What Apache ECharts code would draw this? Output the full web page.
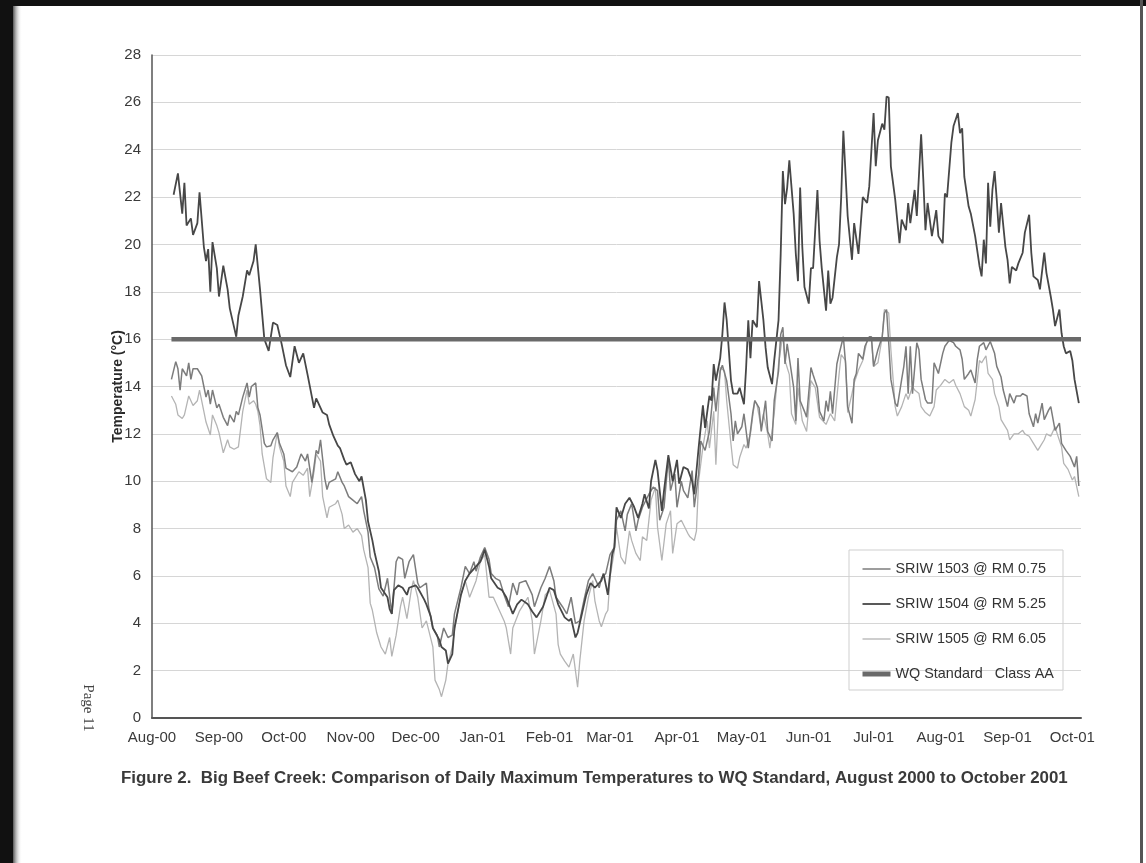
<!DOCTYPE html>
<html lang="en">
<head>
    <meta charset="UTF-8">
    <title>Big Beef Creek</title>
    <script src="https://cdn.jsdelivr.net/npm/echarts@6/dist/echarts.min.js"></script>
    <style>
        html, body { margin: 0; padding: 0; background: #fff; }
        #main { width: 1146px; height: 863px; }
    </style>
</head>
<body>
<div id="main"></div>
<script type="text/javascript">
    // x values are days since 1 Aug 2000
    var monthLabels = ['Aug-00', 'Sep-00', 'Oct-00', 'Nov-00', 'Dec-00', 'Jan-01', 'Feb-01', 'Mar-01',
        'Apr-01', 'May-01', 'Jun-01', 'Jul-01', 'Aug-01', 'Sep-01', 'Oct-01'];
    var monthStartDays = [0, 31, 61, 92, 122, 153, 184, 212, 243, 273, 304, 334, 365, 396, 426];

    // SRIW 1503 @ RM 0.75
    var sriw1503 = [[9,14.3],[11,15.05],[12,14.75],[13,13.85],[14,14.75],[16,14.45],[17,15.0],[18,14.3],[19,14.75],[21,14.75],
        [23,14.45],[24,14.0],[25,13.55],[26,13.85],[27,13.25],[28,13.85],[30,13.1],[31,13.25],[33,12.7],[35,12.35],
        [36,12.8],[38,12.5],[39,12.95],[40,12.8],[42,13.55],[44,14.15],[45,13.55],[46,14.0],[48,14.15],[49,13.1],
        [50,12.8],[52,11.6],[53,11.45],[55,11.5],[56,11.75],[58,12.05],[59,11.6],[61,11.15],[62,10.55],[65,10.4],
        [67,10.6],[69,11.15],[71,10.85],[72,11.15],[74,9.95],[76,11.3],[77,11.15],[78,11.75],[80,10.1],[81,9.65],
        [82,9.95],[85,10.1],[86,10.4],[88,9.95],[89,9.8],[91,9.35],[93,9.2],[95,9.05],[97,9.35],[98,8.75],
        [100,7.85],[101,6.8],[103,6.35],[105,5.45],[107,5.15],[109,5.9],[111,4.4],[113,6.6],[114,6.8],[116,6.7],
        [117,5.9],[119,6.6],[121,6.9],[123,5.7],[124,5.5],[127,5.7],[128,4.7],[130,3.8],[132,3.5],[133,3.0],
        [135,3.8],[137,3.4],[139,3.5],[140,4.4],[143,5.5],[145,6.4],[147,6.1],[149,6.6],[150,6.2],[152,6.8],
        [154,7.2],[156,6.7],[157,6.1],[159,5.9],[161,5.8],[163,5.2],[165,4.7],[167,5.7],[169,5.2],[170,5.7],
        [173,5.8],[176,5.2],[177,4.7],[180,5.5],[182,5.9],[184,6.4],[186,5.8],[187,5.1],[190,4.7],[192,4.4],
        [194,5.1],[196,4.0],[198,4.1],[200,5.0],[202,5.8],[204,6.1],[207,5.5],[208,5.9],[210,6.1],[212,6.9],
        [214,7.2],[215,8.35],[217,8.75],[219,7.9],[220,8.6],[222,9.05],[224,7.9],[225,8.35],[227,8.9],[230,9.45],
        [232,9.75],[234,9.6],[235,8.35],[237,8.9],[239,11.0],[240,9.6],[242,10.3],[243,8.9],[245,10.0],[246,9.6],
        [248,9.3],[250,10.45],[251,8.9],[253,10.3],[254,11.7],[256,11.3],[258,12.1],[260,13.95],[261,12.95],[263,14.65],
        [264,14.9],[266,14.25],[268,12.85],[269,11.7],[270,12.55],[271,12.0],[273,12.3],[274,12.85],[276,11.4],[278,12.85],
        [279,13.4],[281,13.1],[282,12.1],[284,13.4],[285,12.1],[287,11.7],[288,13.4],[290,14.65],[291,16.2],[292,16.5],
        [293,14.95],[294,15.8],[295,15.2],[297,13.95],[298,12.55],[299,15.2],[300,13.4],[302,12.95],[303,12.7],[305,14.8],
        [306,14.5],[308,13.95],[309,12.95],[311,12.55],[312,13.4],[313,12.95],[314,13.8],[315,12.85],[317,14.95],[318,15.35],
        [320,16.1],[321,15.0],[322,13.15],[324,12.45],[325,14.3],[326,14.55],[327,15.4],[329,15.15],[330,15.7],[332,16.1],
        [333,16.1],[334,14.85],[336,15.55],[338,16.1],[339,17.1],[340,17.25],[341,15.85],[342,14.3],[344,13.3],[345,13.15],
        [347,14.3],[348,14.85],[349,15.7],[350,13.7],[351,15.7],[352,13.7],[354,15.85],[355,15.55],[356,14.3],[358,13.45],
        [359,13.3],[361,13.3],[362,15.0],[364,14.55],[366,15.4],[367,15.7],[369,15.95],[371,15.85],[372,15.7],[374,15.55],
        [375,15.15],[376,14.3],[378,14.55],[379,14.7],[381,14.15],[382,15.15],[383,15.7],[385,15.85],[386,15.55],[388,15.9],
        [390,15.4],[391,14.85],[393,14.4],[394,13.85],[396,13.15],[397,13.7],[399,13.3],[400,13.6],[402,13.6],[403,13.7],
        [405,13.6],[406,12.85],[408,12.3],[409,12.85],[410,12.45],[412,13.3],[413,12.6],[415,13.0],[416,13.15],[418,12.15],
        [420,12.45],[421,11.6],[423,11.3],[425,11.05],[427,10.6],[428,11.05],[429,9.8]];

    // SRIW 1504 @ RM 5.25
    var sriw1504 = [[10,22.1],[12,23.0],[14,21.3],[15,22.6],[16,20.8],[18,21.1],[19,20.4],[21,20.9],[22,22.2],[24,19.9],
        [25,19.3],[26,19.8],[27,18.0],[28,20.1],[30,19.0],[31,17.8],[33,19.1],[35,18.1],[36,17.3],[37,16.9],
        [39,16.1],[40,17.0],[42,17.8],[44,18.9],[45,18.7],[47,19.3],[48,20.0],[50,18.1],[52,16.0],[54,15.5],
        [56,16.7],[58,16.6],[60,15.8],[62,14.9],[64,14.4],[66,15.7],[68,15.0],[70,15.4],[72,14.5],[75,13.1],
        [76,13.5],[78,13.1],[79,12.9],[81,12.8],[82,12.4],[84,11.9],[86,11.5],[87,11.4],[89,10.9],[90,10.7],
        [92,10.8],[94,10.3],[96,10.0],[97,10.2],[99,9.2],[100,8.3],[102,7.5],[103,7.0],[105,6.2],[106,5.5],
        [109,5.1],[110,4.6],[111,4.4],[112,5.4],[114,5.6],[116,5.5],[118,5.2],[119,5.5],[122,5.6],[123,5.5],
        [126,5.0],[127,4.8],[129,4.3],[130,3.8],[133,3.3],[134,3.0],[136,2.85],[137,2.3],[139,2.7],[140,3.8],
        [143,5.2],[145,5.8],[147,6.1],[150,6.4],[152,6.6],[154,7.1],[156,6.4],[157,5.9],[160,5.5],[162,5.4],
        [164,5.1],[167,4.4],[169,4.8],[171,5.0],[174,4.8],[176,4.5],[178,4.25],[181,4.7],[184,5.5],[186,5.4],
        [188,4.8],[191,4.25],[193,4.1],[194,4.2],[196,3.4],[197,3.6],[199,4.4],[201,5.2],[203,5.7],[205,5.5],
        [208,5.8],[209,6.1],[211,5.2],[213,6.9],[214,7.2],[215,8.9],[217,8.45],[219,9.05],[221,9.3],[223,8.95],
        [225,8.45],[227,9.05],[228,9.45],[230,8.85],[231,10.0],[233,10.9],[234,10.45],[236,8.75],[237,9.6],[239,11.1],
        [241,10.0],[243,10.9],[244,9.9],[246,10.6],[248,10.5],[250,10.0],[251,9.45],[253,11.4],[255,13.2],[256,12.25],
        [258,13.6],[259,13.4],[260,14.95],[261,14.25],[263,15.2],[264,16.2],[265,17.55],[266,16.8],[268,14.25],[269,13.7],
        [271,13.7],[272,13.95],[274,13.25],[275,14.8],[276,16.8],[277,15.2],[278,16.8],[280,16.5],[281,18.45],[283,16.8],
        [284,15.65],[285,14.8],[287,14.1],[288,15.1],[290,16.8],[291,19.6],[292,23.1],[293,21.7],[294,22.4],[295,23.55],
        [297,21.3],[298,19.6],[299,18.45],[300,22.4],[301,19.9],[302,18.2],[304,17.5],[305,19.0],[306,19.0],[308,22.3],
        [309,20.15],[310,19.0],[312,17.2],[313,18.9],[314,17.5],[315,17.75],[317,19.45],[318,20.0],[319,22.0],[320,24.8],
        [322,21.2],[324,19.35],[325,20.9],[327,19.6],[329,22.0],[331,21.75],[332,22.45],[334,25.55],[335,23.3],[336,24.4],
        [338,25.1],[339,24.85],[340,26.25],[341,26.2],[342,23.3],[344,21.9],[346,20.05],[347,21.05],[349,20.6],[350,21.75],
        [351,20.9],[353,22.3],[354,21.2],[356,24.65],[357,22.75],[358,20.6],[359,21.75],[361,20.35],[363,21.45],[364,20.35],
        [366,20.05],[367,22.15],[368,22.0],[370,24.3],[371,25.0],[373,25.55],[374,24.7],[375,24.9],[376,22.85],[378,21.6],
        [379,21.3],[381,20.35],[383,19.1],[384,18.65],[385,20.2],[386,19.2],[387,22.6],[388,20.75],[389,22.3],[390,23.1],
        [391,21.9],[392,20.5],[393,21.75],[395,19.9],[396,19.35],[397,18.35],[398,19.05],[400,18.9],[401,19.2],[403,19.65],
        [404,20.5],[406,21.25],[407,19.65],[408,18.65],[410,18.5],[411,18.1],[413,19.65],[414,18.8],[416,17.8],[417,17.25],
        [418,16.55],[420,17.25],[421,16.25],[422,15.7],[423,15.4],[425,15.5],[426,15.1],[427,14.3],[429,13.3]];

    // SRIW 1505 @ RM 6.05
    var sriw1505 = [[9,13.6],[11,13.25],[12,12.8],[14,12.65],[15,12.8],[17,13.6],[19,13.2],[21,13.4],[22,13.85],[24,12.95],
        [25,12.5],[27,11.95],[28,12.8],[30,12.35],[31,12.05],[33,11.2],[35,11.75],[36,11.45],[38,11.35],[40,11.45],
        [42,12.95],[44,13.85],[45,13.25],[47,13.4],[48,13.25],[49,12.95],[50,12.35],[51,11.15],[53,10.1],[55,9.95],
        [56,11.0],[58,12.05],[59,11.45],[61,10.85],[62,9.8],[64,9.35],[65,9.95],[68,10.4],[70,10.25],[72,10.55],
        [73,9.35],[75,10.4],[76,11.15],[78,10.85],[79,9.35],[81,8.45],[82,8.9],[85,9.05],[86,9.2],[88,8.6],
        [89,8.0],[91,8.15],[93,7.85],[95,8.0],[97,7.7],[98,7.1],[100,6.35],[101,4.85],[102,4.55],[104,3.6],
        [106,3.0],[108,2.7],[110,3.4],[111,2.6],[113,3.5],[115,4.7],[116,5.1],[118,4.2],[120,5.4],[121,5.8],
        [123,5.1],[125,3.8],[127,4.1],[130,3.0],[131,1.6],[133,1.2],[134,0.9],[136,1.6],[137,2.3],[139,3.0],
        [140,3.7],[143,5.2],[145,5.8],[147,5.1],[150,5.8],[152,6.6],[154,6.9],[156,5.1],[158,5.1],[160,4.7],
        [163,4.1],[164,3.8],[166,2.7],[167,3.8],[170,4.5],[172,4.8],[174,5.1],[176,4.1],[177,2.7],[180,4.1],
        [182,5.2],[184,5.4],[187,4.4],[188,3.1],[189,2.7],[191,2.4],[193,2.15],[195,2.7],[197,1.3],[198,2.4],
        [200,4.1],[202,5.1],[204,5.8],[205,4.95],[207,4.1],[208,3.85],[210,4.4],[211,4.55],[212,5.95],[214,7.05],
        [215,8.05],[217,6.8],[219,6.5],[221,7.9],[222,7.5],[224,6.95],[226,6.65],[227,7.65],[229,7.5],[231,9.2],
        [233,9.75],[234,8.05],[236,6.65],[238,8.2],[240,8.75],[241,6.95],[243,8.2],[245,8.35],[248,7.8],[249,7.65],
        [251,7.5],[252,7.9],[253,10.0],[255,11.45],[257,12.55],[258,11.4],[260,12.95],[261,10.7],[263,14.8],[265,14.65],
        [266,13.4],[268,11.55],[269,10.7],[271,10.55],[272,11.0],[274,11.55],[275,11.4],[277,12.0],[279,13.4],[280,13.25],
        [282,12.25],[283,12.85],[285,12.0],[286,11.4],[288,12.85],[290,14.95],[292,16.2],[293,15.1],[295,14.5],[296,12.85],
        [298,12.4],[299,13.95],[301,12.55],[303,12.1],[305,14.25],[307,13.95],[309,12.7],[312,12.4],[314,12.85],[316,12.55],
        [318,14.5],[319,15.35],[321,15.1],[322,12.9],[324,13.7],[325,14.15],[327,14.7],[329,15.1],[331,15.95],[333,15.95],
        [334,14.85],[336,15.0],[338,16.1],[339,17.25],[341,17.1],[342,15.55],[344,13.15],[345,12.75],[347,13.15],[349,13.7],
        [350,13.45],[352,14.0],[353,13.85],[355,13.7],[356,13.15],[358,12.9],[360,12.75],[362,13.15],[363,13.85],[365,14.05],
        [367,14.3],[369,14.15],[371,14.3],[372,14.05],[374,13.7],[376,13.15],[378,13.0],[379,12.75],[381,13.45],[383,15.1],
        [384,15.0],[386,15.3],[387,14.55],[389,14.3],[390,13.7],[392,13.15],[393,12.6],[396,12.15],[397,11.75],[399,12.0],
        [401,12.0],[403,12.15],[404,12.0],[406,11.9],[408,11.6],[410,11.3],[411,11.45],[413,11.75],[414,12.0],[416,11.9],
        [418,12.3],[419,12.0],[421,11.45],[422,10.75],[424,10.5],[426,10.05],[427,10.2],[429,9.35]];

    // WQ Standard Class AA
    var wqStandard = [[9,16],[430,16]];

    var fontSans = "'Liberation Sans', Arial, sans-serif";

    var myChart = echarts.init(document.getElementById('main'), null, {renderer: 'canvas'});

    var option = {
        backgroundColor: '#ffffff',
        animation: false,
        grid: {left: 152, right: 65, top: 55, bottom: 145, containLabel: false},
        legend: {
            orient: 'vertical',
            left: 855,
            top: 557,
            itemGap: 21,
            itemWidth: 28,
            itemHeight: 14,
            itemStyle: {opacity: 0},
            textStyle: {fontFamily: fontSans, fontSize: 14.4, color: '#333'},
            data: [
                {name: 'SRIW 1503 @ RM 0.75', lineStyle: {width: 1.5}},
                {name: 'SRIW 1504 @ RM 5.25', lineStyle: {width: 1.8}},
                {name: 'SRIW 1505 @ RM 6.05', lineStyle: {width: 1.3}},
                {name: 'WQ Standard   Class AA', lineStyle: {width: 5}}
            ]
        },
        xAxis: {
            type: 'value',
            min: 0,
            max: 430,
            axisLine: {show: true, lineStyle: {color: '#555', width: 2}},
            axisTick: {show: false},
            splitLine: {show: false},
            axisLabel: {
                customValues: monthStartDays,
                margin: 12,
                fontFamily: fontSans,
                fontSize: 15,
                color: '#3a3a3a',
                formatter: function (v) {
                    var i = monthStartDays.indexOf(v);
                    return i >= 0 ? monthLabels[i] : '';
                }
            }
        },
        yAxis: {
            type: 'value',
            min: 0,
            max: 28,
            interval: 2,
            name: 'Temperature (°C)',
            nameLocation: 'middle',
            nameGap: 27,
            nameMoveOverlap: false,
            nameRotate: 90,
            nameTextStyle: {fontFamily: fontSans, fontSize: 14, fontWeight: 'bold', color: '#2a2a2a'},
            axisLine: {show: true, lineStyle: {color: '#555', width: 1.5}},
            axisTick: {show: false},
            splitLine: {show: true, lineStyle: {color: '#d6d6d6', width: 1}},
            axisLabel: {margin: 11, fontFamily: fontSans, fontSize: 15, color: '#3a3a3a'}
        },
        series: [
            {
                name: 'SRIW 1505 @ RM 6.05', type: 'line', data: sriw1505, symbol: 'none',
                lineStyle: {color: '#b4b4b4', width: 1.3}, itemStyle: {color: '#b4b4b4'}, z: 2
            },
            {
                name: 'SRIW 1503 @ RM 0.75', type: 'line', data: sriw1503, symbol: 'none',
                lineStyle: {color: '#7c7c7c', width: 1.5}, itemStyle: {color: '#7c7c7c'}, z: 3
            },
            {
                name: 'SRIW 1504 @ RM 5.25', type: 'line', data: sriw1504, symbol: 'none',
                lineStyle: {color: '#474747', width: 1.8}, itemStyle: {color: '#474747'}, z: 4
            },
            {
                name: 'WQ Standard   Class AA', type: 'line', data: wqStandard, symbol: 'none',
                lineStyle: {color: '#6a6a6a', width: 4.5}, itemStyle: {color: '#6a6a6a'}, z: 5
            }
        ],
        graphic: [
            // scan edges
            {type: 'rect', shape: {x: 0, y: 0, width: 1146, height: 6}, style: {fill: '#111'}, silent: true},
            {type: 'rect', shape: {x: 0, y: 0, width: 13, height: 863}, style: {fill: '#111'}, silent: true},
            {
                type: 'rect', shape: {x: 13, y: 6, width: 9, height: 857}, silent: true,
                style: {fill: new echarts.graphic.LinearGradient(0, 0, 1, 0, [
                    {offset: 0, color: '#555'}, {offset: 1, color: 'rgba(255,255,255,0)'}])}
            },
            {type: 'rect', shape: {x: 1140, y: 0, width: 3, height: 863}, style: {fill: '#555'}, silent: true},
            // legend box
            {
                type: 'rect', shape: {x: 849, y: 550, width: 214, height: 140}, z: 10,
                style: {fill: 'rgba(255,255,255,0)', stroke: '#cfcfcf', lineWidth: 1}, silent: true
            },
            {
                type: 'text', x: 88, y: 708, rotation: -Math.PI / 2, silent: true,
                style: {text: 'Page 11', fontFamily: "'Liberation Serif', serif", fontSize: 15, fill: '#444',
                    textAlign: 'center', textVerticalAlign: 'middle'}
            },
            {
                type: 'text', x: 121, y: 778, silent: true,
                style: {text: 'Figure 2.  Big Beef Creek: Comparison of Daily Maximum Temperatures to WQ Standard, August 2000 to October 2001',
                    fontFamily: fontSans, fontSize: 16.9, fontWeight: 'bold', fill: '#3a3a3a',
                    textAlign: 'left', textVerticalAlign: 'middle'}
            }
        ]
    };

    myChart.setOption(option);
</script>
</body>
</html>
